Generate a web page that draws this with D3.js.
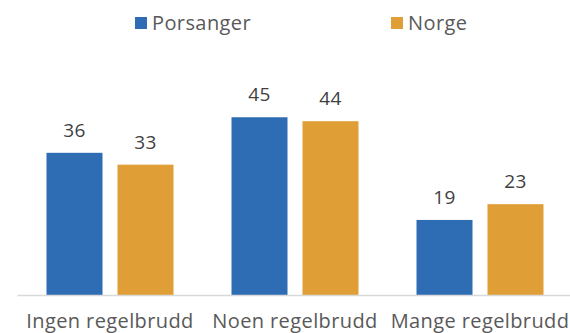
<!DOCTYPE html>
<html>
<head>
<meta charset="utf-8">
<script src="https://cdn.jsdelivr.net/npm/d3@7"></script>
<style>
  html, body { margin: 0; padding: 0; background: #fff; }
  svg { display: block; font-family: "Open Sans", "Noto Sans", sans-serif; }
</style>
</head>
<body>
<svg id="chart" width="570" height="333"></svg>
<script>
// Data
const categories = ["Ingen regelbrudd", "Noen regelbrudd", "Mange regelbrudd"];
const seriesNames = ["Porsanger", "Norge"];
const porsanger = [36, 45, 19];
const norge = [33, 44, 23];
const seriesColors = ["#2E6DB4", "#E09E37"];

const svg = d3.select("#chart");
const W = 570;

const plotLeft = 17.5, plotRight = 572.5, baseY = 295;

const x0 = d3.scaleBand().domain(categories).range([plotLeft, plotRight]).paddingInner(0).paddingOuter(0);
// two bars of 56px with a 15px gap, centred in each 185px group
const inner = d3.scaleBand().domain(seriesNames).range([29, x0.bandwidth() - 29]).paddingInner(15 / 71);
const y = d3.scaleLinear().domain([0, 50]).range([baseY, baseY - 197.5]);

const rows = categories.map((c, i) => ({ cat: c, values: [porsanger[i], norge[i]] }));

// Bars
const groups = svg.append("g").selectAll("g").data(rows).join("g")
  .attr("transform", d => `translate(${x0(d.cat)},0)`);

groups.selectAll("rect").data(d => d.values.map((v, j) => ({ name: seriesNames[j], v, j })))
  .join("rect")
  .attr("x", d => inner(d.name))
  .attr("y", d => y(d.v))
  .attr("width", inner.bandwidth())
  .attr("height", d => y(0) - y(d.v))
  .attr("fill", d => seriesColors[d.j]);

// Value labels
groups.selectAll("text").data(d => d.values.map((v, j) => ({ name: seriesNames[j], v, j })))
  .join("text")
  .attr("x", d => inner(d.name) + inner.bandwidth() / 2)
  .attr("y", d => y(d.v) - 16)
  .attr("text-anchor", "middle")
  .attr("font-size", 19)
  .attr("letter-spacing", 0.4)
  .attr("fill", "#404040")
  .text(d => d.v);

// Baseline axis
svg.append("line")
  .attr("x1", plotLeft).attr("x2", W)
  .attr("y1", baseY + 0.5).attr("y2", baseY + 0.5)
  .attr("stroke", "#D9D9D9").attr("stroke-width", 1.5);

// Category labels
svg.append("g").selectAll("text").data(categories).join("text")
  .attr("x", d => x0(d) + x0.bandwidth() / 2)
  .attr("y", 328)
  .attr("text-anchor", "middle")
  .attr("font-size", 20)
  .attr("letter-spacing", 0.4)
  .attr("fill", "#595959")
  .text(d => d);

// Legend
const legendX = [135, 391];
const legend = svg.append("g").selectAll("g").data(seriesNames).join("g")
  .attr("transform", (d, i) => `translate(${legendX[i]},17)`);
legend.append("rect").attr("width", 12).attr("height", 12)
  .attr("fill", (d, i) => seriesColors[i]);
legend.append("text").attr("x", 17).attr("y", 12.5)
  .attr("font-size", 20).attr("letter-spacing", 0.4).attr("fill", "#595959")
  .text(d => d);
</script>
</body>
</html>
